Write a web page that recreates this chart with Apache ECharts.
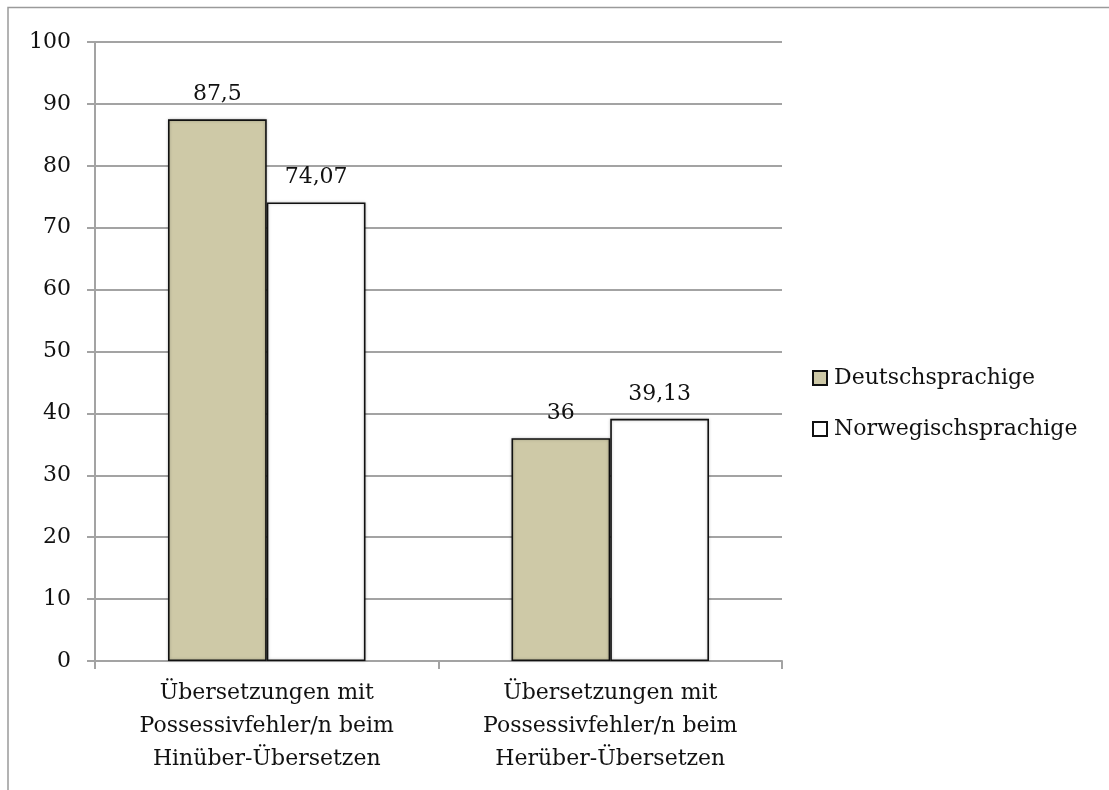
<!DOCTYPE html>
<html>
<head>
<meta charset="utf-8">
<style>
  html, body { margin: 0; padding: 0; background: #ffffff; }
  #chart { width: 1109px; height: 790px; }
</style>
<script src="https://cdn.jsdelivr.net/npm/echarts@6/dist/echarts.min.js"></script>
</head>
<body>
<div id="chart"></div>
<script>
// Categories (line breaks as they are set under the axis)
const categories = [
  'Übersetzungen mit\nPossessivfehler/n beim\nHinüber-Übersetzen',
  'Übersetzungen mit\nPossessivfehler/n beim\nHerüber-Übersetzen'
];
const seriesNames = ['Deutschsprachige', 'Norwegischsprachige'];
const deutschValues = [87.5, 36];
const norwegischValues = [74.07, 39.13];
const yTicks = { min: 0, max: 100, interval: 10 };

const FONT = 'DejaVu Serif';
const FONT_SIZE = 22;
const GRAY = '#a3a3a3';

const chart = echarts.init(document.getElementById('chart'), null, { renderer: 'canvas' });

// decimal comma for value labels
const fmt = p => String(p.value).replace('.', ',');

const barLabel = {
  show: true,
  position: 'top',
  distance: 14,
  formatter: fmt,
  fontFamily: FONT,
  fontSize: FONT_SIZE,
  color: '#111'
};

chart.setOption({
  animation: false,
  backgroundColor: '#ffffff',
  textStyle: { fontFamily: FONT },
  grid: { left: 95, right: 327, top: 42, bottom: 129, containLabel: false },
  legend: {
    orient: 'vertical',
    left: 807,
    top: 362,
    itemWidth: 14,
    itemHeight: 14,
    itemGap: 29,
    icon: 'rect',
    textStyle: { fontFamily: FONT, fontSize: FONT_SIZE, color: '#111', padding: [0, 0, 0, 2] },
    data: seriesNames
  },
  xAxis: {
    type: 'category',
    data: categories,
    axisLine: { show: true, lineStyle: { color: GRAY, width: 2 } },
    axisTick: { show: true, length: 8, alignWithLabel: false, lineStyle: { color: GRAY, width: 2 } },
    axisLabel: {
      interval: 0,
      margin: 16,
      fontFamily: FONT,
      fontSize: FONT_SIZE,
      lineHeight: 33,
      color: '#111'
    }
  },
  yAxis: {
    type: 'value',
    min: yTicks.min,
    max: yTicks.max,
    interval: yTicks.interval,
    axisLine: { show: true, lineStyle: { color: GRAY, width: 2 } },
    axisTick: { show: true, length: 8, lineStyle: { color: GRAY, width: 2 } },
    axisLabel: { margin: 24, fontFamily: FONT, fontSize: FONT_SIZE, color: '#111' },
    splitLine: { show: true, lineStyle: { color: GRAY, width: 2 } }
  },
  series: [
    {
      name: seriesNames[0],
      type: 'bar',
      data: deutschValues,
      barGap: '0%',
      barCategoryGap: '42.5%',
      itemStyle: {
        color: '#cec9a7',
        borderColor: '#111',
        borderWidth: 1.6,
        shadowColor: 'rgba(0,0,0,0.25)',
        shadowBlur: 3
      },
      label: barLabel
    },
    {
      name: seriesNames[1],
      type: 'bar',
      data: norwegischValues,
      barGap: '0%',
      barCategoryGap: '42.5%',
      itemStyle: {
        color: '#ffffff',
        borderColor: '#111',
        borderWidth: 1.6,
        shadowColor: 'rgba(0,0,0,0.25)',
        shadowBlur: 3
      },
      label: barLabel
    }
  ],
  graphic: [
    {
      type: 'polyline',
      silent: true,
      shape: { points: [[8, 790], [8, 7.5], [1109, 7.5]] },
      style: { stroke: '#9a9a9a', lineWidth: 1.5, fill: null }
    }
  ]
});
</script>
</body>
</html>
